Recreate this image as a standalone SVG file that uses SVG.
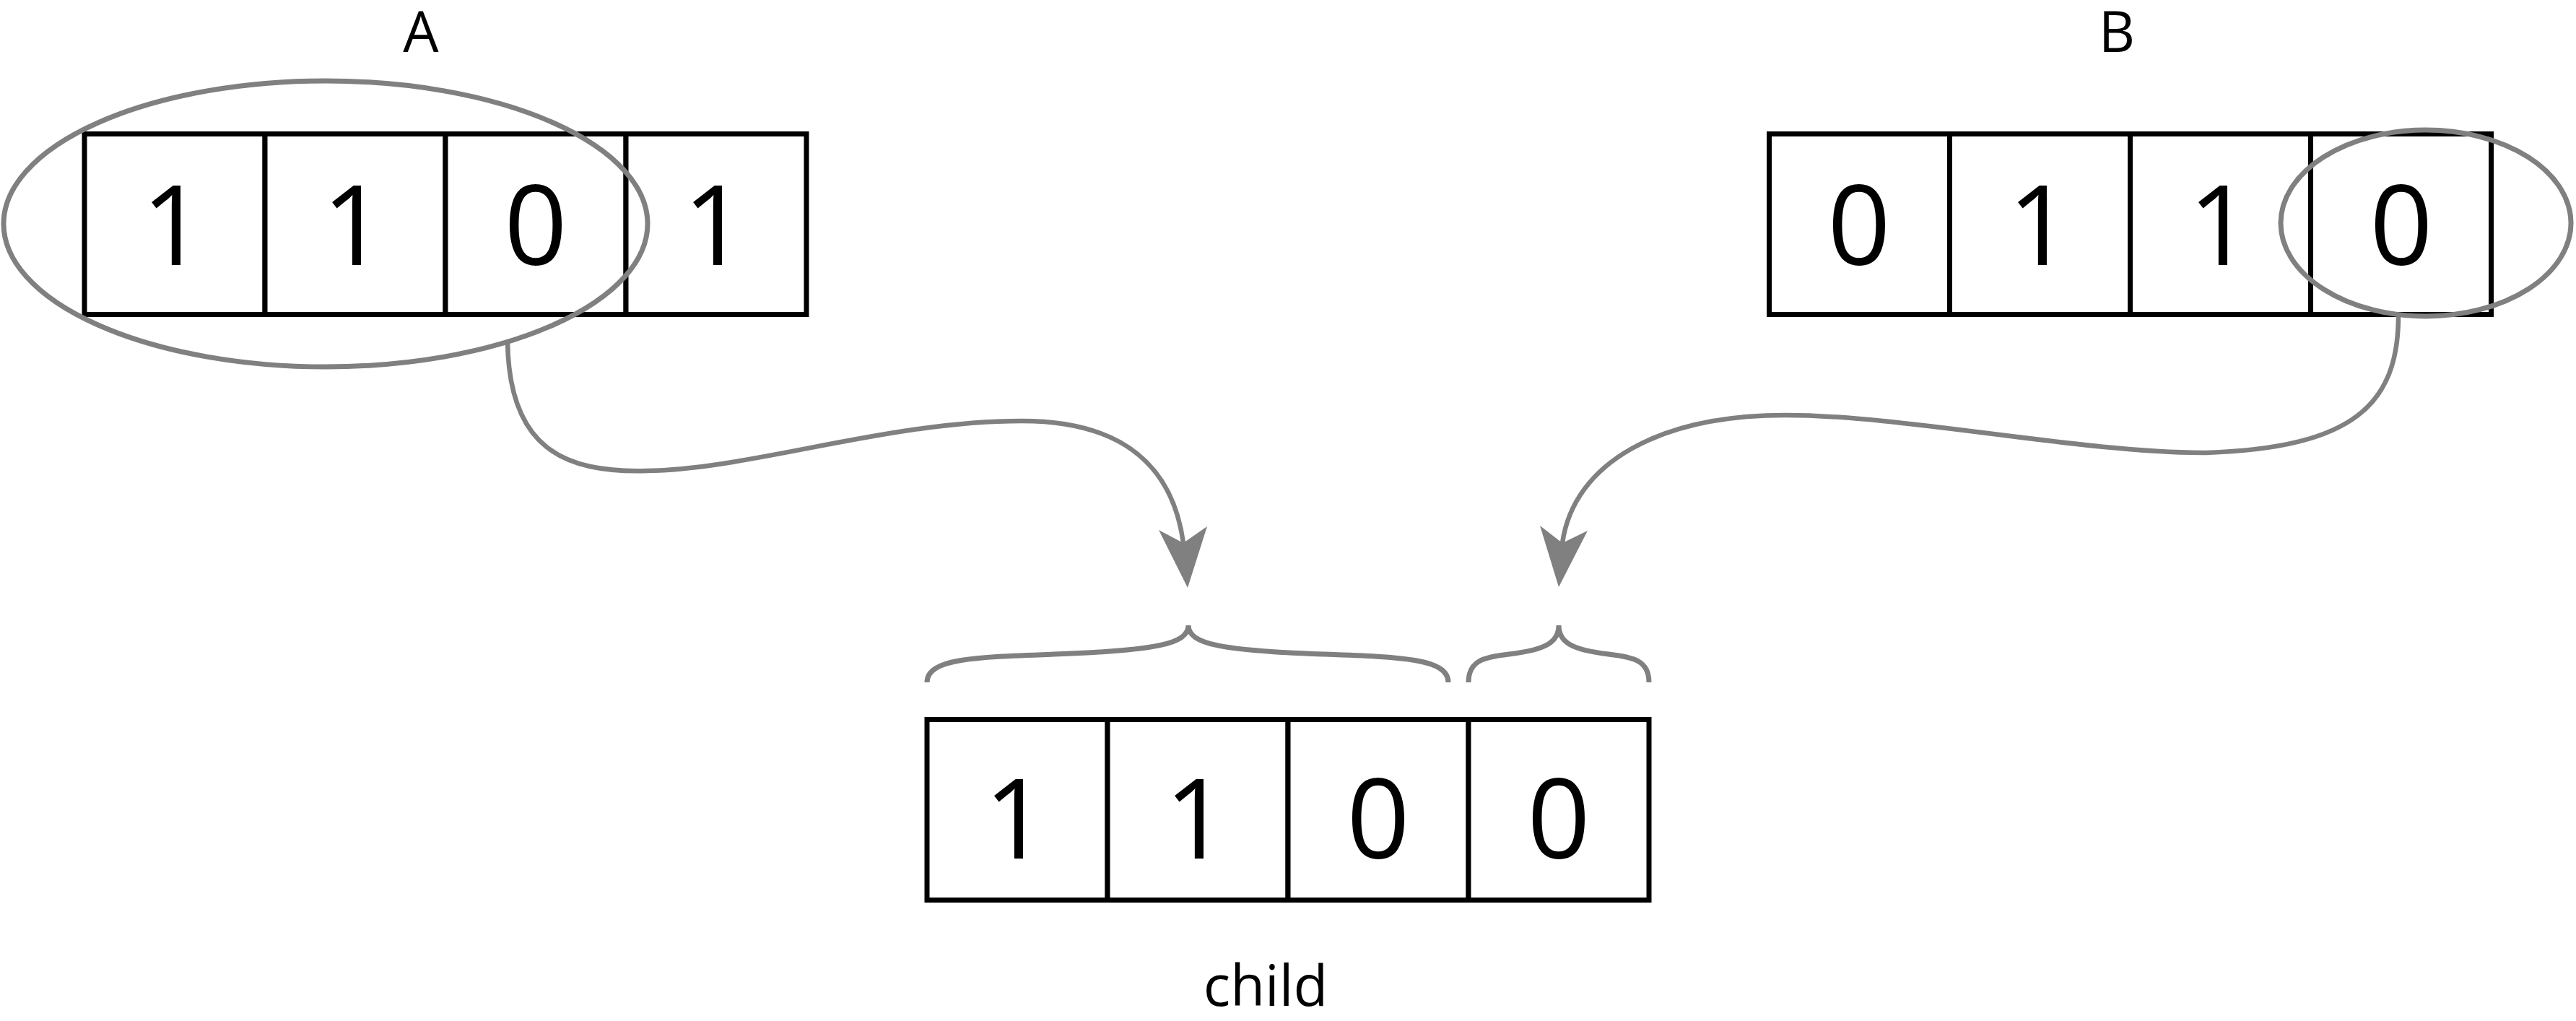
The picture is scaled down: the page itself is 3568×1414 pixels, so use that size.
<svg xmlns="http://www.w3.org/2000/svg" width="3568" height="1414" viewBox="0 0 3568 1414">
  <style>
    .cell { fill: #ffffff; stroke: #000000; stroke-width: 7; }
    .digit { font-family: "Open Sans", "Noto Sans", sans-serif; font-size: 153px; fill: #000000; text-anchor: middle; }
    .label { font-family: "Open Sans", "Noto Sans", sans-serif; font-size: 78px; fill: #000000; text-anchor: middle; }
    .ring { fill: none; stroke: #808080; stroke-width: 7; }
    .link { fill: none; stroke: #808080; stroke-width: 6.5; }
    .head { fill: #808080; stroke: none; }
    .brace { fill: none; stroke: #808080; stroke-width: 7; }
  </style>
  <rect x="0" y="0" width="3568" height="1414" fill="#ffffff"/>

  <!-- parent A -->
  <g id="parent-a">
    <text class="label" x="583" y="72">A</text>
    <rect class="cell" x="117" y="185.5" width="250" height="250"/>
    <rect class="cell" x="367" y="185.5" width="250" height="250"/>
    <rect class="cell" x="617" y="185.5" width="250" height="250"/>
    <rect class="cell" x="867" y="185.5" width="250" height="250"/>
    <text class="digit" x="240" y="367">1</text>
    <text class="digit" x="490" y="367">1</text>
    <text class="digit" x="742" y="367">0</text>
    <text class="digit" x="990" y="367">1</text>
    <ellipse class="ring" cx="451" cy="310" rx="446" ry="198"/>
  </g>

  <!-- parent B -->
  <g id="parent-b">
    <text class="label" x="2932" y="72">B</text>
    <rect class="cell" x="2450.5" y="185.5" width="250" height="250"/>
    <rect class="cell" x="2700.5" y="185.5" width="250" height="250"/>
    <rect class="cell" x="2950.5" y="185.5" width="250" height="250"/>
    <rect class="cell" x="3200.5" y="185.5" width="250" height="250"/>
    <text class="digit" x="2575" y="367">0</text>
    <text class="digit" x="2825" y="367">1</text>
    <text class="digit" x="3075" y="367">1</text>
    <text class="digit" x="3326" y="367">0</text>
    <ellipse class="ring" cx="3360" cy="309" rx="201" ry="129"/>
  </g>

  <!-- offspring -->
  <g id="child">
    <rect class="cell" x="1284" y="996.5" width="250" height="250"/>
    <rect class="cell" x="1534" y="996.5" width="250" height="250"/>
    <rect class="cell" x="1784" y="996.5" width="250" height="250"/>
    <rect class="cell" x="2034" y="996.5" width="250" height="250"/>
    <text class="digit" x="1407" y="1189">1</text>
    <text class="digit" x="1657" y="1189">1</text>
    <text class="digit" x="1909" y="1189">0</text>
    <text class="digit" x="2159" y="1189">0</text>
    <text class="label" x="1753" y="1393">child</text>
  </g>

  <!-- braces marking which bits come from which parent -->
  <g id="braces">
    <path class="brace" d="M1284,945 C1284,912 1350,910 1460,906 C1600,901 1646,892 1646,866 C1646,892 1692,901 1832,906 C1942,910 2006,912 2006,945"/>
    <path class="brace" d="M2034,945 C2034,915 2055,910 2090,906 C2140,900 2159,890 2159,866 C2159,890 2178,900 2228,906 C2263,910 2284,915 2284,945"/>
  </g>

  <!-- connectors -->
  <g id="connectors">
    <path class="link" d="M703,473 C705,620 780,655 896,652 C1040,650 1230,583 1415,583 C1560,583 1625,650 1639,752"/>
    <polygon class="head" points="1645,814 1605,734 1639,752 1672,729"/>
    <path class="link" d="M3322,437 C3322,560 3260,620 3056,627 C2880,627 2640,575 2473,575 C2300,575 2180,640 2164,752"/>
    <polygon class="head" points="2159,813 2133,728 2164,752 2199,735"/>
  </g>
</svg>
